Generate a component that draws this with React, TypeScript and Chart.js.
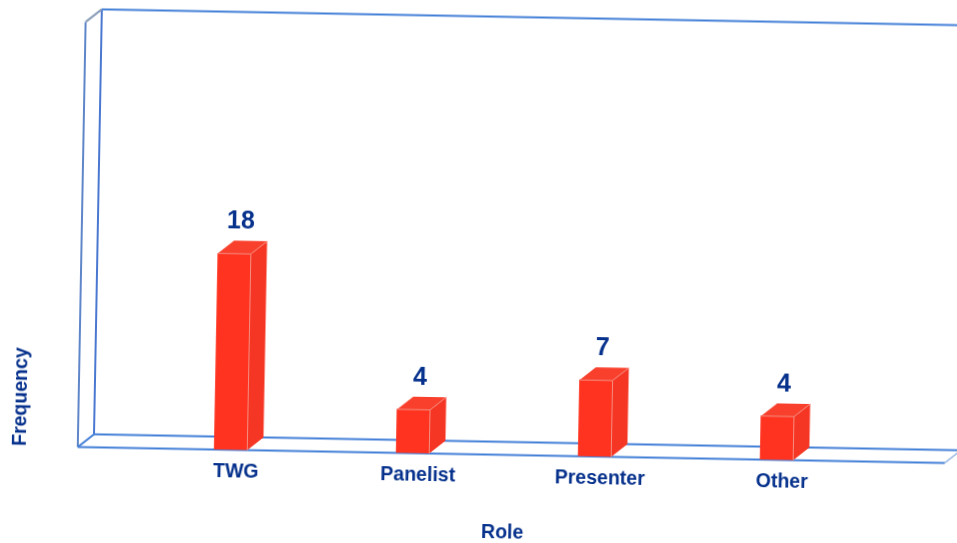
import React, { useEffect, useRef } from "react";
import { Chart, registerables } from "chart.js";

Chart.register(...registerables);

const categories = ["TWG", "Panelist", "Presenter", "Other"];
const frequencies = [18, 4, 7, 4];
const yMax = 39;

const INK = "#06318c";
const FONT = '"Liberation Sans", Arial, sans-serif';
const BLUE = "#4480d8";
const DEPTH = { x: 16, y: -13 };
const WALL_LEFT_GAP = 62;
const WALL_RIGHT_GAP = 77;

const framePlugin = {
  id: "frame3d",
  beforeDatasetsDraw(chart: any) {
    const { ctx, chartArea: a } = chart;
    const l = a.left - WALL_LEFT_GAP;
    const r = a.right + WALL_RIGHT_GAP;
    const seg = (x1: number, y1: number, x2: number, y2: number, c = BLUE, w = 2) => {
      ctx.beginPath();
      ctx.moveTo(x1, y1);
      ctx.lineTo(x2, y2);
      ctx.strokeStyle = c;
      ctx.lineWidth = w;
      ctx.stroke();
    };
    ctx.save();
    seg(l, a.bottom, l, a.top, "#5f86c8");
    seg(l + DEPTH.x, a.bottom + DEPTH.y, l + DEPTH.x, a.top + DEPTH.y, "#4a78d0");
    seg(l, a.top, l + DEPTH.x, a.top + DEPTH.y, "#8a9cb8");
    seg(l + DEPTH.x, a.top + DEPTH.y, r + DEPTH.x, a.top + DEPTH.y);
    seg(l, a.bottom, l + DEPTH.x, a.bottom + DEPTH.y);
    seg(l + DEPTH.x, a.bottom + DEPTH.y, r + DEPTH.x, a.bottom + DEPTH.y);
    seg(l, a.bottom, r, a.bottom);
    seg(r, a.bottom, r + DEPTH.x, a.bottom + DEPTH.y, "#8fb0e0", 1.5);
    ctx.restore();
  },
};

const barPlugin = {
  id: "bar3d",
  afterDatasetsDraw(chart: any) {
    const { ctx } = chart;
    const meta = chart.getDatasetMeta(0);
    ctx.save();
    meta.data.forEach((bar: any, i: number) => {
      const left = bar.x - bar.width / 2;
      const right = bar.x + bar.width / 2;
      const top = bar.y;
      const base = bar.base;
      const poly = (pts: number[][], fill: string) => {
        ctx.beginPath();
        pts.forEach(([x, y], k) => (k ? ctx.lineTo(x, y) : ctx.moveTo(x, y)));
        ctx.closePath();
        ctx.fillStyle = fill;
        ctx.fill();
      };
      poly(
        [
          [left, top],
          [left + DEPTH.x, top + DEPTH.y],
          [right + DEPTH.x, top + DEPTH.y],
          [right, top],
        ],
        "#f8402c"
      );
      poly(
        [
          [right, top],
          [right + DEPTH.x, top + DEPTH.y],
          [right + DEPTH.x, base + DEPTH.y],
          [right, base],
        ],
        "#f63624"
      );
      ctx.strokeStyle = "#f58e80";
      ctx.lineWidth = 1;
      ctx.beginPath();
      ctx.moveTo(left, top);
      ctx.lineTo(right, top);
      ctx.lineTo(right, base);
      ctx.moveTo(right, top);
      ctx.lineTo(right + DEPTH.x, top + DEPTH.y);
      ctx.stroke();

      ctx.fillStyle = INK;
      ctx.font = `bold 25px ${FONT}`;
      ctx.textAlign = "center";
      ctx.textBaseline = "middle";
      ctx.fillText(String(frequencies[i]), bar.x + 6, top - 32);
    });
    ctx.restore();
  },
};

export default function App() {
  const ref = useRef<HTMLCanvasElement>(null);
  useEffect(() => {
    const chart = new Chart(ref.current!, {
      type: "bar",
      data: {
        labels: categories,
        datasets: [
          {
            label: "Frequency",
            data: frequencies,
            backgroundColor: "#ff3320",
            barThickness: 33,
            borderWidth: 0,
          },
        ],
      },
      options: {
        animation: false,
        responsive: false,
        devicePixelRatio: 1,
        layout: { padding: { top: 20.4, left: 0, right: 124, bottom: 24.5 } },
        plugins: {
          legend: { display: false },
          tooltip: { enabled: false },
          title: { display: false },
        },
        scales: {
          x: {
            grid: { display: false },
            border: { display: false },
            ticks: {
              color: INK,
              font: { family: FONT, size: 19.5, weight: "bold" },
              padding: 2,
              labelOffset: 5.5,
              maxRotation: 0,
            },
            title: {
              display: true,
              text: "Role",
              color: INK,
              font: { family: FONT, size: 19.5, weight: "bold" },
              padding: { top: 0, bottom: 0 },
            },
            afterFit(scale: any) {
              scale.height = 90;
            },
          },
          y: {
            min: 0,
            max: yMax,
            grid: { display: false },
            border: { display: false },
            ticks: { display: false },
            title: {
              display: true,
              text: "Frequency",
              align: "start",
              color: INK,
              font: { family: FONT, size: 19.5, weight: "bold" },
              padding: { top: 17, bottom: 0 },
            },
            afterFit(scale: any) {
              scale.width = 148;
            },
          },
        },
      },
      plugins: [framePlugin, barPlugin],
    } as any);
    return () => chart.destroy();
  }, []);

  return (
    <div
      style={{
        position: "fixed",
        left: 0,
        top: 0,
        width: 957,
        height: 543,
        overflow: "hidden",
        background: "#fff",
      }}
    >
      <canvas
        ref={ref}
        width={1000}
        height={560}
        style={{
          position: "absolute",
          left: 0,
          top: 0,
          transform: "rotate(1.057deg)",
          transformOrigin: "0 0",
        }}
      />
    </div>
  );
}
